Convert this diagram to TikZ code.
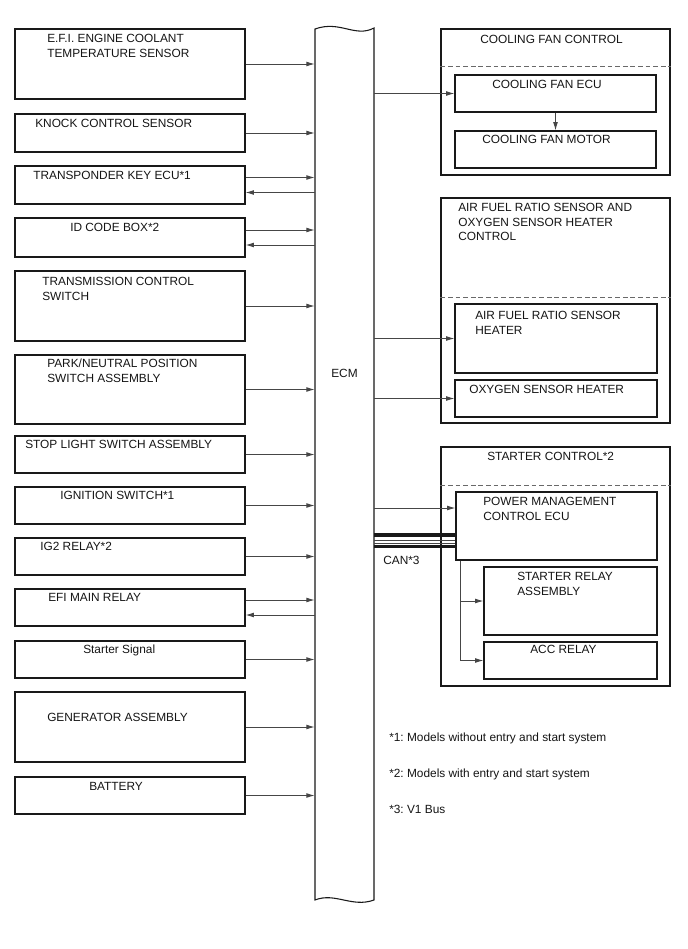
\documentclass[tikz,border=0pt]{standalone}
\usepackage{fontspec}
\setmainfont{Liberation Sans}
\usepackage{xcolor}
\usepackage{tikz}
\usetikzlibrary{arrows.meta,positioning,fit,calc}
\definecolor{ecedge}{RGB}{25,25,25}
\definecolor{ecwire}{RGB}{70,70,70}
\definecolor{ecdash}{RGB}{105,105,105}
\definecolor{ectext}{RGB}{20,20,20}
\newcommand{\ecfont}{\fontsize{8.9pt}{10.9pt}\selectfont\frenchspacing}
\tikzset{
  blk/.style={draw=ecedge, line width=0.8pt, inner sep=0pt},
  lbl/.style={anchor=north west, inner sep=0pt, align=left, font=\ecfont, text=ectext},
  arr/.style={-{Latex[length=6.2pt,width=3.6pt]}, draw=ecwire, line width=0.7pt},
  sep/.style={draw=ecdash, dash pattern=on 3.5pt off 2.2pt, line width=0.6pt},
  busw/.style={draw=ecedge, line width=2.6pt},
  busn/.style={draw=ecwire, line width=0.55pt},
  every picture/.append style={line join=miter}
}

\begin{document}
\begin{tikzpicture}[x=0.75pt, y=-0.75pt]
  \useasboundingbox (0,0) rectangle (688,949);

  % inputs
  \node[blk, fit={(15,29) (245,99)}] (ect) {};
  \node[blk, fit={(15,114) (245,152)}] (kcs) {};
  \node[blk, fit={(15,166) (245,204)}] (tke) {};
  \node[blk, fit={(15,218) (245,257)}] (idb) {};
  \node[blk, fit={(15,271) (245,341)}] (tcs) {};
  \node[blk, fit={(15,355) (245,424)}] (pnp) {};
  \node[blk, fit={(15,436) (245,473)}] (sls) {};
  \node[blk, fit={(15,487) (245,524)}] (igs) {};
  \node[blk, fit={(15,538) (245,575)}] (ig2) {};
  \node[blk, fit={(15,589) (245,626)}] (emr) {};
  \node[blk, fit={(15,641) (245,678)}] (sts) {};
  \node[blk, fit={(15,692) (245,762)}] (gen) {};
  \node[blk, fit={(15,777) (245,814)}] (bat) {};

  \node[lbl] (ect-l) at (47,34) {E.F.I. ENGINE COOLANT\\TEMPERATURE SENSOR};
  \node[lbl] (kcs-l) at (35,119) {KNOCK CONTROL SENSOR};
  \node[lbl] (tke-l) at (33,171) {TRANSPONDER KEY ECU*1};
  \node[lbl] (idb-l) at (70,223) {ID CODE BOX*2};
  \node[lbl] (tcs-l) at (42,277) {TRANSMISSION CONTROL\\SWITCH};
  \node[lbl] (pnp-l) at (47,359) {PARK/NEUTRAL POSITION\\SWITCH ASSEMBLY};
  \node[lbl] (sls-l) at (25,440) {STOP LIGHT SWITCH ASSEMBLY};
  \node[lbl] (igs-l) at (60,491) {IGNITION SWITCH*1};
  \node[lbl] (ig2-l) at (40,542) {IG2 RELAY*2};
  \node[lbl] (emr-l) at (48,593) {EFI MAIN RELAY};
  \node[lbl] (sts-l) at (83,645) {Starter Signal};
  \node[lbl] (gen-l) at (47,713) {GENERATOR ASSEMBLY};
  \node[lbl] (bat-l) at (89,782) {BATTERY};

  % ECM
  \node[inner sep=0pt, fit={(315,29) (374,900)}] (ecm) {};
  \draw[blk] (315,29) .. controls (340,20) and (355,38) .. (374,28)
    -- (374,900) .. controls (352,908) and (335,892) .. (315,900) -- cycle;
  \node[lbl] (ecm-l) at (331,369) {ECM};

  % outputs
  \node[blk, fit={(441,29) (670,175)}] (cfc) {};
  \node[blk, fit={(455,75) (656,112)}] (cfe) {};
  \node[blk, fit={(455,131) (656,168)}] (cfm) {};
  \node[blk, fit={(441,198) (670,423)}] (afc) {};
  \node[blk, fit={(455,304) (657,373)}] (afh) {};
  \node[blk, fit={(455,380) (657,417)}] (oxh) {};
  \node[blk, fit={(441,447) (670,686)}] (stc) {};
  \node[blk, fit={(456,492) (657,560)}] (pm) {};
  \node[blk, fit={(484,567) (657,635)}] (srl) {};
  \node[blk, fit={(484,642) (657,679)}] (acc) {};

  \draw[sep] ($(cfc.north west)+(0,38)$) -- ($(cfc.north east)+(0,38)$);
  \draw[sep] ($(afc.north west)+(0,100)$) -- ($(afc.north east)+(0,100)$);
  \draw[sep] ($(stc.north west)+(0,39)$) -- ($(stc.north east)+(0,39)$);

  \node[lbl] (cfc-l) at (480,35) {COOLING FAN CONTROL};
  \node[lbl] (cfe-l) at (492,80) {COOLING FAN ECU};
  \node[lbl] (cfm-l) at (482,135) {COOLING FAN MOTOR};
  \node[lbl] (afc-l) at (458,203) {AIR FUEL RATIO SENSOR AND\\OXYGEN SENSOR HEATER\\CONTROL};
  \node[lbl] (afh-l) at (475,311) {AIR FUEL RATIO SENSOR\\HEATER};
  \node[lbl] (oxh-l) at (469,385) {OXYGEN SENSOR HEATER};
  \node[lbl] (stc-l) at (487,452) {STARTER CONTROL*2};
  \node[lbl] (pm-l) at (483,497) {POWER MANAGEMENT\\CONTROL ECU};
  \node[lbl] (srl-l) at (517,572) {STARTER RELAY\\ASSEMBLY};
  \node[lbl] (acc-l) at (530,645) {ACC RELAY};

  % wires
  \foreach \p in {ect,kcs,tcs,pnp,sls,igs,ig2,sts,gen,bat}
    \draw[arr] (\p) -- (\p -| ecm.west);
  \foreach \p in {tke,idb,emr} {
    \draw[arr] ($(\p.east)+(0,-7.5)$) -- ($(\p.east -| ecm.west)+(0,-7.5)$);
    \draw[arr] ($(\p.east -| ecm.west)+(0,7.5)$) -- ($(\p.east)+(0,7.5)$);
  }
  \foreach \q in {cfe,afh,oxh}
    \draw[arr] (\q -| ecm.east) -- (\q);
  \draw[arr] (cfe) -- (cfm);
  \draw[arr] ($(pm.west -| ecm.east)+(0,-18)$) -- ($(pm.west)+(0,-18)$);

  % CAN bus
  \draw[busw] ($(pm.west -| ecm.east)+(0,9)$) -- ($(pm.west)+(0,9)$);
  \draw[busn] ($(pm.west -| ecm.east)+(0,14)$) -- ($(pm.west)+(0,14)$);
  \draw[busn] ($(pm.west -| ecm.east)+(0,17)$) -- ($(pm.west)+(0,17)$);
  \draw[busw] ($(pm.west -| ecm.east)+(0,20.5)$) -- ($(pm.west)+(0,20.5)$);
  \node[lbl] (can-l) at (383,556) {CAN*3};

  \coordinate (tap) at ($(pm.south west)+(5,0)$);
  \draw[arr] (tap) |- (srl);
  \draw[arr] (tap) |- (acc);

  % notes
  \node[lbl] (n1) at (389,733) {*1: Models without entry and start system};
  \node[lbl] (n2) at (389,769) {*2: Models with entry and start system};
  \node[lbl] (n3) at (389,805) {*3: V1 Bus};
\end{tikzpicture}
\end{document}
